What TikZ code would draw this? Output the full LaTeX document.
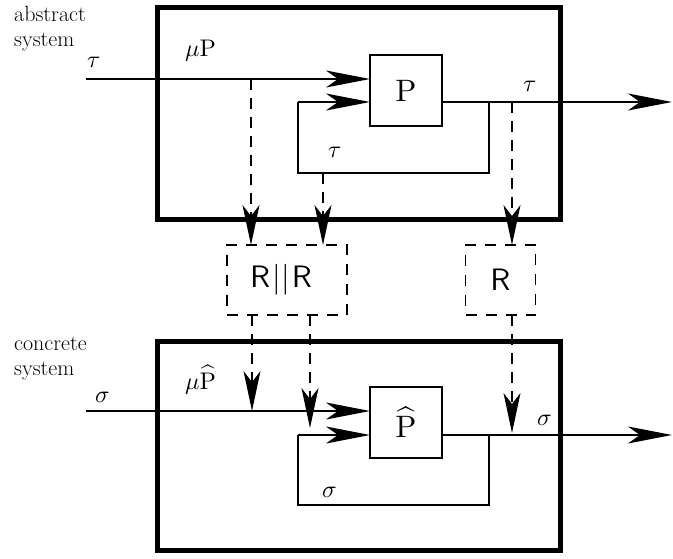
\documentclass[tikz,border=0pt]{standalone}
\usepackage{graphicx}
\usepackage{fontspec}
\usetikzlibrary{arrows.meta}
\newcommand{\lblsz}[1]{\scalebox{2.4}{#1}}
\newcommand{\boxsz}[1]{\scalebox{3.1}{#1}}
\begin{document}
\begin{tikzpicture}[x=1pt,y=-1pt,
  sig/.style={line width=1.4pt},
  arr/.style={sig,-{Stealth[length=44pt,width=17pt,inset=12pt]}},
  darr/.style={sig,dash pattern=on 11pt off 8pt,-{Stealth[length=40pt,width=17pt,inset=11pt]}},
  outerbox/.style={draw,line width=5pt,inner sep=0pt,outer sep=0pt},
  procbox/.style={draw,line width=1.4pt,fill=white,inner sep=0pt,outer sep=0pt,minimum width=72pt,minimum height=71pt},
  relbox/.style={draw,line width=1.4pt,dash pattern=on 11pt off 9pt,inner sep=0pt,outer sep=0pt,minimum height=70pt},
  lbl/.style={anchor=base west,inner sep=0pt},
  side/.style={anchor=base west,inner sep=0pt,font=\fontsize{22}{25}\selectfont\addfontfeature{LetterSpace=7}}]
\useasboundingbox (0,0) rectangle (673,559);

% outer system boxes
\node[outerbox,minimum width=403pt,minimum height=212pt] (A) at (358.5,114) {};
\node[outerbox,minimum width=403pt,minimum height=209pt] (C) at (358.5,445.5) {};

% side labels
\node[side] (ab1) at (14,22) {abstract};
\node[side] (ab2) at (14,47) {system};
\node[side] (co1) at (14,350) {concrete};
\node[side] (co2) at (14,375) {system};

% process boxes
\node[procbox] (P) at (406,90.5) {\boxsz{$\mathrm{P}$}};
\node[procbox] (Q) at (406,422.5) {\boxsz{$\widehat{\mathrm{P}}$}};

% relation boxes
\node[relbox,minimum width=120pt] (RR) at (287,280) {\boxsz{$\mathsf{R}\kern0.6pt|\kern0.2pt|\kern0.6pt\mathsf{R}$}\hspace*{12pt}};
\node[relbox,minimum width=70pt] (R) at (500.5,280) {\boxsz{$\mathsf{R}$}};

% ---- abstract system ----
\coordinate (inT) at (86,79);
\coordinate (jT) at (489,102);
\coordinate (fbT) at (298,173);
\coordinate (outT) at (672,102);
\draw[arr] (inT) -- (inT -| P.west);
\draw[sig] (P.east |- jT) -- (jT) -- (jT |- fbT) -- (fbT) -- (fbT |- jT);
\draw[arr] (fbT |- jT) -- (P.west |- jT);
\draw[arr] (jT) -- (outT);

\node[lbl] (tin) at (87,68) {\lblsz{$\tau$}};
\node[lbl] (muP) at (185,57) {\lblsz{$\mu\mathrm{P}$}};
\node[lbl] (tout) at (523,92) {\lblsz{$\tau$}};
\node[lbl] (tfb) at (328,158) {\lblsz{$\tau$}};

% dashed arrows down to relations
\coordinate (d1) at (251,79);
\coordinate (d2) at (323,173);
\coordinate (d3) at (512,102);
\draw[darr] (d1) -- (d1 |- RR.north);
\draw[darr] (d2) -- (d2 |- RR.north);
\draw[darr] (d3) -- (d3 |- R.north);

% ---- concrete system ----
\coordinate (inC) at (86,411);
\coordinate (jC) at (489,435);
\coordinate (fbC) at (298,505);
\coordinate (outC) at (672,435);
\draw[arr] (inC) -- (inC -| Q.west);
\draw[sig] (Q.east |- jC) -- (jC) -- (jC |- fbC) -- (fbC) -- (fbC |- jC);
\draw[arr] (fbC |- jC) -- (Q.west |- jC);
\draw[arr] (jC) -- (outC);

\node[lbl] (sin) at (95,402) {\lblsz{$\sigma$}};
\node[lbl] (muQ) at (185,389) {\lblsz{$\mu\widehat{\mathrm{P}}$}};
\node[lbl] (sout) at (537,425) {\lblsz{$\sigma$}};
\node[lbl] (sfb) at (322,497) {\lblsz{$\sigma$}};

% dashed arrows from relations
\coordinate (e1) at (252,411);
\coordinate (e2) at (310,428);
\coordinate (e3) at (512,433);
\draw[darr] (e1 |- RR.south) -- (e1);
\draw[darr] (e2 |- RR.south) -- (e2);
\draw[darr] (e3 |- R.south) -- (e3);
\end{tikzpicture}
\end{document}
